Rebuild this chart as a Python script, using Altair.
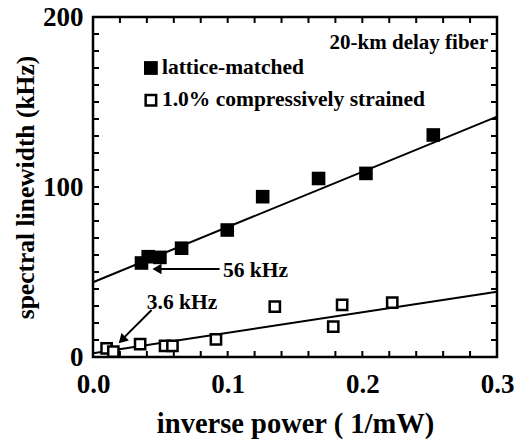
import altair as alt
import pandas as pd
import numpy as np

# Data
lm_x = [0.036, 0.041, 0.0497, 0.0658, 0.0997, 0.126, 0.1675, 0.2027, 0.2527]
lm_y = [55.3, 59.0, 58.6, 64.0, 74.7, 94.3, 105.0, 108.0, 130.6]
cs_x = [0.0101, 0.0151, 0.035, 0.0535, 0.059, 0.0913, 0.135, 0.1784, 0.185, 0.2222]
cs_y = [5.1, 3.1, 7.6, 6.5, 6.5, 10.4, 29.6, 17.8, 30.6, 32.0]
fit_x = [0.0, 0.3]
lm_fit_y = [44.0, 141.4]
cs_fit_y = [2.2, 38.4]
x_ticks = [0.0, 0.1, 0.2, 0.3]
y_ticks = [0, 100, 200]

FONT = "Liberation Serif"
XD = [0, 0.3]
YD = [0, 200]

xs = alt.Scale(domain=XD, nice=False, zero=False)
ys = alt.Scale(domain=YD, nice=False, zero=False)

lm_df = pd.DataFrame({"x": lm_x, "y": lm_y})
cs_df = pd.DataFrame({"x": cs_x, "y": cs_y})
lmf = pd.DataFrame({"x": fit_x, "y": lm_fit_y})
csf = pd.DataFrame({"x": fit_x, "y": cs_fit_y})

base_x = alt.X("x:Q", scale=xs, axis=alt.Axis(values=x_ticks, format=".1f", title="inverse power ( 1/mW)",
                                             ticks=False, domain=False, grid=False, labelPadding=14,
                                             titlePadding=12, labelFlush=False, titleFontSize=28.5))
base_y = alt.Y("y:Q", scale=ys, axis=alt.Axis(values=y_ticks, format="d", title="spectral linewidth (kHz)",
                                             ticks=False, domain=False, grid=False, labelPadding=10,
                                             titlePadding=4, labelFlush=False, titleFontSize=25.5))

lm_line = alt.Chart(lmf).mark_line(color="black", strokeWidth=2).encode(x=base_x, y=base_y)
cs_line = alt.Chart(csf).mark_line(color="black", strokeWidth=2).encode(x="x:Q", y="y:Q")

lm_pts = alt.Chart(lm_df).mark_point(shape="square", filled=True, color="black", size=185, opacity=1,
                                     clip=False).encode(x="x:Q", y="y:Q")
cs_pts = alt.Chart(cs_df).mark_point(shape="square", filled=True, fill="white", stroke="black", strokeWidth=2.5,
                                     size=105, opacity=1, clip=False).encode(x="x:Q", y="y:Q")

# inward ticks (minor and major)
xt_minor = [round(v, 3) for v in np.arange(0.02, 0.3, 0.02)]
yt_minor = list(range(10, 200, 10))
xt_df = pd.DataFrame({"x": xt_minor})
yt_df = pd.DataFrame({"y": yt_minor})
xtick_b = alt.Chart(xt_df).mark_rule(color="black", strokeWidth=2).encode(x="x:Q", y=alt.value(340), y2=alt.value(334))
xtick_t = alt.Chart(xt_df).mark_rule(color="black", strokeWidth=2).encode(x="x:Q", y=alt.value(0), y2=alt.value(6))
ytick_l = alt.Chart(yt_df).mark_rule(color="black", strokeWidth=2).encode(y="y:Q", x=alt.value(0), x2=alt.value(6))
ytick_r = alt.Chart(yt_df).mark_rule(color="black", strokeWidth=2).encode(y="y:Q", x=alt.value(404), x2=alt.value(398))

# legend & annotations
leg_df = pd.DataFrame({"x": [0.043], "y": [170.0]})
leg2_df = pd.DataFrame({"x": [0.043], "y": [151.0]})
leg1 = alt.Chart(leg_df).mark_point(shape="square", filled=True, color="black", size=190, opacity=1).encode(x="x:Q", y="y:Q")
leg2 = alt.Chart(leg2_df).mark_point(shape="square", filled=True, fill="white", stroke="black", strokeWidth=2.5,
                                     size=110, opacity=1).encode(x="x:Q", y="y:Q")

txt_df = pd.DataFrame({
    "x": [0.0512, 0.0512, 0.0965, 0.040],
    "y": [170.0, 151.0, 50.5, 31.8],
    "t": ["lattice-matched", "1.0% compressively strained", "56 kHz", "3.6 kHz"],
})
txt = alt.Chart(txt_df).mark_text(font=FONT, fontWeight="bold", fontSize=21.5, align="left", baseline="middle",
                                  color="black").encode(x="x:Q", y="y:Q", text="t:N")
title_df = pd.DataFrame({"x": [0.2935], "y": [184.5], "t": ["20-km delay fiber"]})
ttxt = alt.Chart(title_df).mark_text(font=FONT, fontWeight="bold", fontSize=21, align="right", baseline="middle",
                                     color="black").encode(x="x:Q", y="y:Q", text="t:N")

arr1 = pd.DataFrame({"x": [0.094, 0.048], "y": [51.8, 51.8]})
arr2 = pd.DataFrame({"x": [0.0435, 0.0215], "y": [27.6, 10.2]})
a1 = alt.Chart(arr1).mark_line(color="black", strokeWidth=2).encode(x="x:Q", y="y:Q")
a2 = alt.Chart(arr2).mark_line(color="black", strokeWidth=2).encode(x="x:Q", y="y:Q")
h1 = alt.Chart(pd.DataFrame({"x": [0.0475], "y": [51.8]})).mark_point(
    shape="triangle-left", filled=True, color="black", size=110, opacity=1).encode(x="x:Q", y="y:Q")
h2 = alt.Chart(pd.DataFrame({"x": [0.0215], "y": [10.0]})).mark_point(
    shape="triangle-up", angle=225, filled=True, color="black", size=110, opacity=1).encode(x="x:Q", y="y:Q")

chart = alt.layer(
    lm_line, cs_line, xtick_b, xtick_t, ytick_l, ytick_r,
    a1, a2, h1, h2, lm_pts, cs_pts, leg1, leg2, txt, ttxt
).properties(
    width=404, height=340,
    autosize=alt.AutoSizeParams(type="none"),
    padding={"left": 93, "top": 17, "right": 19, "bottom": 86},
).configure_view(
    stroke="black", strokeWidth=2.5
).configure_axis(
    labelFont=FONT, titleFont=FONT, labelFontWeight="bold", titleFontWeight="bold",
    labelFontSize=27, labelColor="black", titleColor="black"
)

chart.save("out.html", embed_options={"renderer": "svg", "actions": False})
